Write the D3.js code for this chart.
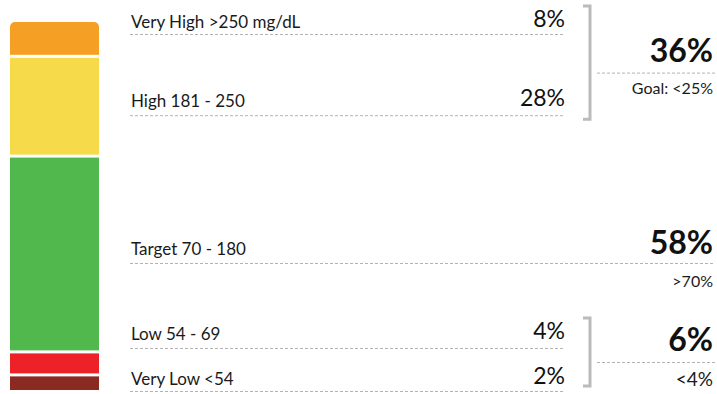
<!DOCTYPE html>
<html>
<head>
<meta charset="utf-8">
<script src="https://cdn.jsdelivr.net/npm/d3@7"></script>
<style>
body { margin: 0; background: #fff; }
text { font-family: Lato, "Noto Sans", sans-serif; }
</style>
</head>
<body>
<svg id="chart" width="717" height="394"></svg>
<script>
// time in range, top to bottom
var ranges = ["Very High >250 mg/dL", "High 181 - 250", "Target 70 - 180", "Low 54 - 69", "Very Low <54"];
var percents = [8, 28, 58, 4, 2];
var colors = ["#f5a024", "#f7da4a", "#50b84c", "#ec2228", "#8b2923"];

// summary groups on the right
var groupMembers = [[0, 1], [2], [3, 4]];
var groupTotals = [36, 58, 6];
var groupGoals = ["Goal: <25%", ">70%", "<4%"];

var svg = d3.select("#chart");
var n = percents.length;

var cs = {
    bar: { x: 10, width: 89, top: 22, bottom: 390, gap: 3, minH: 7.2, radius: 5 },
    label: { x: 131, size: 17, rowGap: 45 },
    value: { x: 565, size: 23 },
    line: { x0: 130, x1: 563, xEnd: 713, color: "#b3b3b3" },
    bracket: { x: 590, tick: 7 },
    total: { x: 713, size: 32, lineX0: 597, lineX1: 717 },
    goalSize: [16, 16, 19]
};

// segment height = fixed minimum + share of the rest
var usable = (cs.bar.bottom - cs.bar.top) - cs.bar.gap * (n - 1) - cs.bar.minH * n;
var hScale = d3.scaleLinear().domain([0, d3.sum(percents)]).range([0, usable]);

var segs = [];
var yPos = cs.bar.top;
percents.forEach(function (p, i) {
    var h = cs.bar.minH + hScale(p);
    segs.push({ i: i, y: yPos, h: h, color: colors[i] });
    yPos += h + cs.bar.gap;
});

svg.append("clipPath").attr("id", "barClip")
    .append("rect")
    .attr("x", cs.bar.x).attr("y", cs.bar.top)
    .attr("width", cs.bar.width).attr("height", cs.bar.bottom - cs.bar.top + 10)
    .attr("rx", cs.bar.radius);

svg.append("g").attr("clip-path", "url(#barClip)")
    .selectAll("rect")
    .data(segs)
    .enter().append("rect")
    .attr("x", cs.bar.x)
    .attr("y", d => d.y)
    .attr("width", cs.bar.width)
    .attr("height", d => d.h)
    .attr("fill", d => d.color);

// label baselines: centred on segment, ends pinned, pushed apart from the bottom
var base = segs.map(d => d.y + d.h / 2 + 1);
base[0] = cs.bar.top + 6;
base[n - 1] = cs.bar.bottom - 5;
for (var i = n - 2; i >= 0; i--) base[i] = Math.min(base[i], base[i + 1] - cs.label.rowGap);
var dashY = base.map((b, i) => b + (i === 0 || i === n - 1 ? 6 : 8));

var single = {};
groupMembers.forEach(g => { if (g.length === 1) single[g[0]] = true; });

var rows = svg.append("g").selectAll("g")
    .data(ranges)
    .enter().append("g");

rows.append("line")
    .attr("x1", cs.line.x0)
    .attr("x2", (d, i) => single[i] ? cs.line.xEnd : cs.line.x1)
    .attr("y1", (d, i) => dashY[i] + 0.5)
    .attr("y2", (d, i) => dashY[i] + 0.5)
    .attr("stroke", cs.line.color)
    .attr("stroke-width", 1)
    .attr("stroke-dasharray", "3,2");

rows.append("text")
    .attr("x", cs.label.x)
    .attr("y", (d, i) => base[i])
    .attr("font-size", cs.label.size)
    .attr("fill", "#1a1a1a")
    .text(d => d);

rows.filter((d, i) => !single[i]).append("text")
    .attr("x", cs.value.x)
    .attr("y", d => base[ranges.indexOf(d)] - 1)
    .attr("text-anchor", "end")
    .attr("font-size", cs.value.size)
    .attr("fill", "#111")
    .text(d => percents[ranges.indexOf(d)] + "%");

// right hand summaries
groupMembers.forEach(function (g, gi) {
    var first = g[0], last = g[g.length - 1];
    var subSize = cs.goalSize[gi];
    var totalY, lineY;
    if (g.length > 1) {
        var top = base[first] - 22;
        var bottom = Math.min(base[last] + 12, 386);
        svg.append("path")
            .attr("d", "M" + (cs.bracket.x - cs.bracket.tick) + "," + top +
                "H" + cs.bracket.x + "V" + bottom + "H" + (cs.bracket.x - cs.bracket.tick))
            .attr("fill", "none")
            .attr("stroke", "#bbb")
            .attr("stroke-width", 3);
        lineY = (top + bottom) / 2 + 10;
        totalY = lineY - 11;
        svg.append("line")
            .attr("x1", cs.total.lineX0).attr("x2", cs.total.lineX1)
            .attr("y1", lineY + 0.5).attr("y2", lineY + 0.5)
            .attr("stroke", cs.line.color)
            .attr("stroke-dasharray", "3,2");
    } else {
        lineY = dashY[first];
        totalY = base[first] - 1;
    }
    svg.append("text")
        .attr("x", cs.total.x).attr("y", totalY)
        .attr("text-anchor", "end")
        .attr("font-size", cs.total.size)
        .attr("font-weight", "bold")
        .attr("fill", "#111")
        .text(groupTotals[gi] + "%");
    svg.append("text")
        .attr("x", cs.total.x).attr("y", lineY + 5 + subSize + (g.length > 1 ? 0 : 3))
        .attr("text-anchor", "end")
        .attr("font-size", subSize)
        .attr("fill", "#1a1a1a")
        .text(groupGoals[gi]);
});
</script>
</body>
</html>
